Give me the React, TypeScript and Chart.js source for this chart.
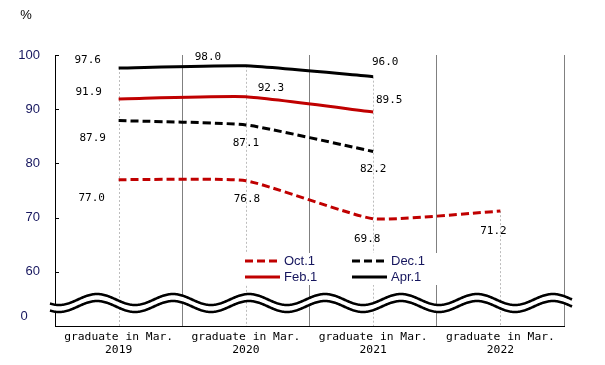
import React, { useEffect, useRef } from "react";
import { Chart, registerables } from "chart.js";
Chart.register(...registerables);

const categories = [
  ["graduate in Mar.", "2019"],
  ["graduate in Mar.", "2020"],
  ["graduate in Mar.", "2021"],
  ["graduate in Mar.", "2022"],
];
const seriesNames = ["Oct.1", "Dec.1", "Feb.1", "Apr.1"];
const octValues = [77.0, 76.8, 69.8, 71.2];
const decValues = [87.9, 87.1, 82.2, null];
const febValues = [91.9, 92.3, 89.5, null];
const aprValues = [97.6, 98.0, 96.0, null];
const yTicks = [60, 70, 80, 90, 100];
const yMin = 50;
const yMax = 100;
const breakTickLabel = "0";
const breakTickValue = 51.8;
const unitLabel = "%";

// label offsets (styling only): [dx, dy] from the point
const octOffsets = [[-27, 18], [1, 18], [-6, 20], [-7, 20]];
const decOffsets = [[-26, 18], [0, 18], [0, 18], [0, 0]];
const febOffsets = [[-30, -7], [25, -9], [16, -12], [0, 0]];
const aprOffsets = [[-31, -8], [-38, -9], [12, -15], [0, 0]];

const RED = "#c00000";
const NAVY = "#16165e";
const MONO = "'DejaVu Sans Mono', 'Liberation Mono', monospace";
const SANS = "'Liberation Sans', Arial, sans-serif";

const decorPlugin = {
  id: "decor",
  beforeDatasetsDraw(chart: any) {
    const { ctx, chartArea, scales } = chart;
    const x = scales.x;
    const y = scales.y;
    ctx.save();
    ctx.strokeStyle = "#bdbdbd";
    ctx.lineWidth = 1;
    ctx.setLineDash([2, 2]);
    categories.forEach((_, i) => {
      const vals = chart.data.datasets
        .map((d: any) => d.data[i])
        .filter((v: any) => v !== null && v !== undefined);
      if (!vals.length) return;
      const top = y.getPixelForValue(Math.max(...vals));
      const px = Math.round(x.getPixelForValue(i)) + 0.5;
      ctx.beginPath();
      ctx.moveTo(px, top);
      ctx.lineTo(px, chartArea.bottom);
      ctx.stroke();
    });
    ctx.restore();
  },
  afterDatasetsDraw(chart: any) {
    const { ctx, chartArea, scales } = chart;
    const x = scales.x;
    const y = scales.y;

    // data labels
    ctx.save();
    ctx.font = `11px ${MONO}`;
    ctx.fillStyle = "#000";
    ctx.textAlign = "center";
    ctx.textBaseline = "middle";
    chart.data.datasets.forEach((ds: any) => {
      ds.data.forEach((v: any, i: number) => {
        if (v === null || v === undefined) return;
        const off = ds.labelOffsets[i];
        const px = x.getPixelForValue(i) + off[0];
        const py = y.getPixelForValue(v) + off[1];
        ctx.fillText(v.toFixed(1), px, py);
      });
    });
    ctx.restore();

    // wavy break
    const x0 = chartArea.left - 5;
    const x1 = chartArea.right + 8;
    const amp = 5.5;
    const period = 76;
    const phase = chartArea.left + 42;
    const upC = chartArea.bottom - 26.5;
    const loC = chartArea.bottom - 19.5;
    const wave = (xx: number, c: number) =>
      c - amp * Math.cos((2 * Math.PI * (xx - phase)) / period);
    ctx.save();
    ctx.beginPath();
    for (let xx = x0; xx <= x1; xx += 1) {
      if (xx === x0) ctx.moveTo(xx, wave(xx, upC));
      else ctx.lineTo(xx, wave(xx, upC));
    }
    for (let xx = x1; xx >= x0; xx -= 1) ctx.lineTo(xx, wave(xx, loC));
    ctx.closePath();
    ctx.fillStyle = "#fff";
    ctx.fill();
    ctx.strokeStyle = "#000";
    ctx.lineWidth = 2.6;
    [upC, loC].forEach((c) => {
      ctx.beginPath();
      for (let xx = x0; xx <= x1; xx += 1) {
        if (xx === x0) ctx.moveTo(xx, wave(xx, c));
        else ctx.lineTo(xx, wave(xx, c));
      }
      ctx.stroke();
    });
    ctx.restore();

    // inward y ticks
    ctx.save();
    ctx.strokeStyle = "#000";
    ctx.lineWidth = 1;
    yTicks.forEach((v) => {
      const py = Math.round(y.getPixelForValue(v)) + 0.5;
      ctx.beginPath();
      ctx.moveTo(chartArea.left, py);
      ctx.lineTo(chartArea.left + 4, py);
      ctx.stroke();
    });
    // break label
    ctx.font = `13px ${SANS}`;
    ctx.fillStyle = NAVY;
    ctx.textAlign = "center";
    ctx.textBaseline = "middle";
    ctx.fillText(breakTickLabel, chartArea.left - 31, y.getPixelForValue(breakTickValue));
    // unit
    ctx.fillStyle = "#000";
    ctx.fillText(unitLabel, chartArea.left - 29, chartArea.top - 40);
    ctx.restore();

    // legend
    ctx.save();
    const lx = chartArea.left + 190;
    const ly = chartArea.bottom - 71;
    ctx.fillStyle = "#fff";
    ctx.fillRect(lx - 5, ly - 2, 202, 32);
    ctx.font = `13px ${SANS}`;
    ctx.textBaseline = "middle";
    ctx.textAlign = "left";
    chart.data.datasets.forEach((ds: any, k: number) => {
      const col = k % 2;
      const row = Math.floor(k / 2);
      const sx = lx + col * 107;
      const sy = ly + 6 + row * 16;
      ctx.strokeStyle = ds.borderColor;
      ctx.lineWidth = 3;
      ctx.setLineDash(ds.borderDash || []);
      ctx.beginPath();
      ctx.moveTo(sx, sy);
      ctx.lineTo(sx + 35, sy);
      ctx.stroke();
      ctx.setLineDash([]);
      ctx.fillStyle = NAVY;
      ctx.fillText(ds.label, sx + 39, sy + 0.5);
    });
    ctx.restore();
  },
};

export default function App() {
  const ref = useRef<HTMLCanvasElement | null>(null);
  useEffect(() => {
    if (!ref.current) return;
    const mk = (label: string, data: any[], color: string, dashed: boolean, offsets: number[][]) => ({
      label,
      data,
      borderColor: color,
      backgroundColor: color,
      borderWidth: 3,
      borderDash: dashed ? [8, 4] : [],
      pointRadius: 0,
      tension: 0.15,
      fill: false,
      labelOffsets: offsets,
    });
    const chart = new Chart(ref.current, {
      type: "line",
      data: {
        labels: categories as any,
        datasets: [
          mk(seriesNames[0], octValues, RED, true, octOffsets),
          mk(seriesNames[1], decValues, "#000", true, decOffsets),
          mk(seriesNames[2], febValues, RED, false, febOffsets),
          mk(seriesNames[3], aprValues, "#000", false, aprOffsets),
        ] as any,
      },
      options: {
        animation: false,
        responsive: false,
        devicePixelRatio: 1,
        layout: { padding: { left: 0, right: 41, top: 55, bottom: 0 } },
        plugins: { legend: { display: false }, tooltip: { enabled: false } },
        scales: {
          x: {
            type: "category",
            offset: true,
            grid: { offset: true, color: "#808080", lineWidth: 1, drawTicks: false },
            border: { display: true, color: "#000", width: 1 },
            ticks: {
              color: "#000",
              font: { family: MONO, size: 11.3, lineHeight: 1.1 },
              padding: 5,
              maxRotation: 0,
              autoSkip: false,
            },
            afterFit: (s: any) => {
              s.height = 39;
            },
          },
          y: {
            type: "linear",
            min: yMin,
            max: yMax,
            grid: { drawOnChartArea: false, drawTicks: false, color: "rgba(0,0,0,0)" },
            border: { display: true, color: "#000", width: 1 },
            ticks: {
              color: NAVY,
              font: { family: SANS, size: 13 },
              padding: 15,
              callback: (v: any) => String(v),
            },
            afterBuildTicks: (s: any) => {
              s.ticks = yTicks.map((v) => ({ value: v }));
            },
            afterFit: (s: any) => {
              s.width = 55;
            },
          },
        },
      },
      plugins: [decorPlugin],
    } as any);
    return () => chart.destroy();
  }, []);
  return (
    <div style={{ position: "absolute", left: 0, top: 0, width: 605, height: 365, background: "#fff" }}>
      <canvas ref={ref} width={605} height={365} style={{ display: "block" }} />
    </div>
  );
}
